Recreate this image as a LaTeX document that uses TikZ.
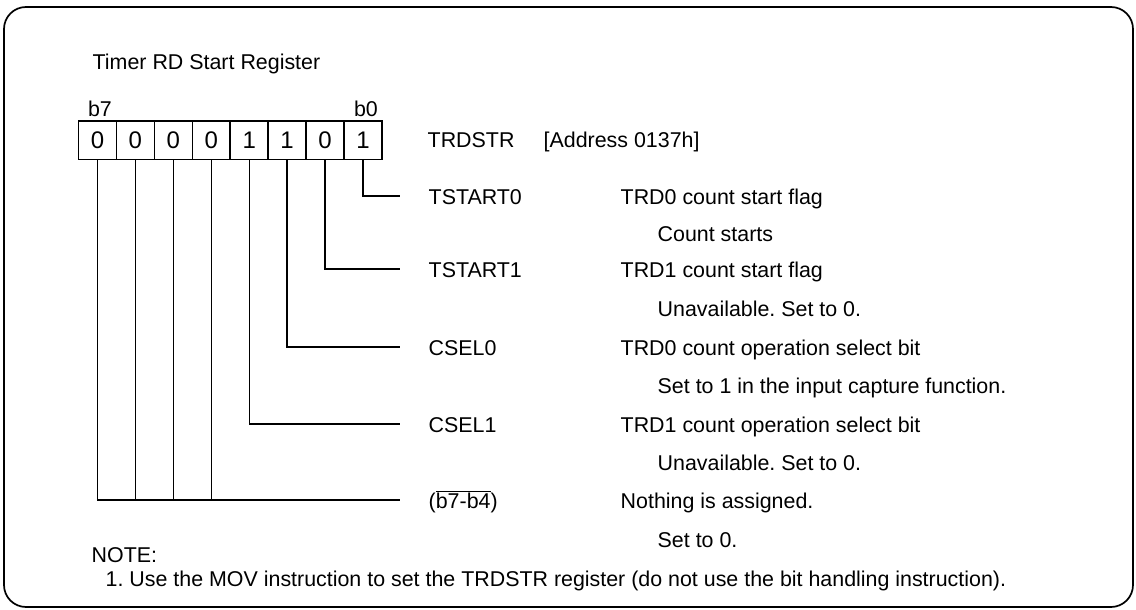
\documentclass[tikz,border=0pt]{standalone}
\usepackage{fontspec}
\setmainfont{Liberation Sans}
\frenchspacing
\begin{document}
\begin{tikzpicture}[x=1pt,y=-1pt,
  font=\fontsize{21.4}{25}\selectfont,
  line width=1.4pt,
  cell/.style={draw, minimum width=37.94pt, minimum height=38.6pt, inner sep=0pt,
    font=\fontsize{24}{28}\selectfont, line width=1.6pt},
  lbl/.style={anchor=base west, inner sep=0pt},
  conn/.style={line width=1.4pt}]
\useasboundingbox (0,0) rectangle (1136,610);
\draw[line width=1.7pt, rounded corners=22pt] (4,7) rectangle (1133,607);

\node[lbl] (title) at (92,70) {Timer RD Start Register};

% register cells
\foreach \i/\v in {7/0,6/0,5/0,4/0,3/1,2/1,1/0,0/1}{
  \node[cell] (c\i) at ({78.5+37.94*(7-\i)+18.97},140) {\v};
}
\node[anchor=base, inner sep=0pt] (b7) at (100,117) {b7};
\node[anchor=base, inner sep=0pt] (b0) at (366,117) {b0};

\node[lbl] (reg) at (427,147) {TRDSTR};
\node[lbl] (addr) at (543,147) {[Address 0137h]};

% connector ends
\coordinate (e0) at (400,196);
\coordinate (e1) at (400,269);
\coordinate (e2) at (400,347);
\coordinate (e3) at (400,424);
\coordinate (e4) at (400,500);

\draw[conn] (c0.south) |- (e0);
\draw[conn] (c1.south) |- (e1);
\draw[conn] (c2.south) |- (e2);
\draw[conn] (c3.south) |- (e3);
\draw[conn] (c7.south) |- (e4);
\draw[conn] (c6.south) -- (c6.south |- e4);
\draw[conn] (c5.south) -- (c5.south |- e4);
\draw[conn] (c4.south) -- (c4.south |- e4);

% labels
\node[lbl] (n0) at (428,204) {TSTART0};
\node[lbl] (d0) at (620,204) {TRD0 count start flag};
\node[lbl] (s0) at (657,241) {Count starts};

\node[lbl] (n1) at (428,277) {TSTART1};
\node[lbl] (d1) at (620,277) {TRD1 count start flag};
\node[lbl] (s1) at (657,316) {Unavailable. Set to 0.};

\node[lbl] (n2) at (428,355) {CSEL0};
\node[lbl] (d2) at (620,355) {TRD0 count operation select bit};
\node[lbl] (s2) at (657,393) {Set to 1 in the input capture function.};

\node[lbl] (n3) at (428,432) {CSEL1};
\node[lbl] (d3) at (620,432) {TRD1 count operation select bit};
\node[lbl] (s3) at (657,470) {Unavailable. Set to 0.};

\node[lbl] (n4) at (428,508) {($\overline{\mbox{b7-b4}}$)};
\node[lbl] (d4) at (620,508) {Nothing is assigned.};
\node[lbl] (s4) at (657,547) {Set to 0.};

\node[lbl] (note) at (91,562) {NOTE:};
\node[lbl] (note1) at (105,586) {1. Use the MOV instruction to set the TRDSTR register (do not use the bit handling instruction).};
\end{tikzpicture}
\end{document}
